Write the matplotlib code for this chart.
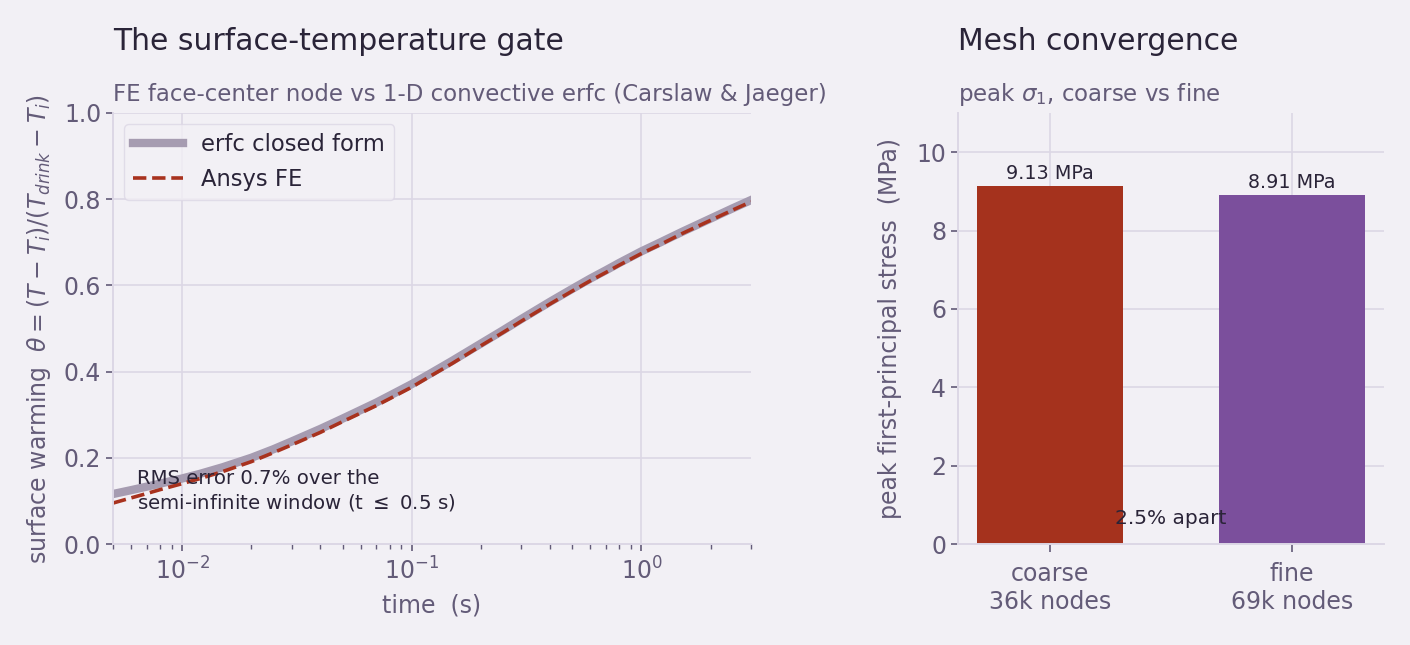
import matplotlib
matplotlib.use('Agg')
import matplotlib.pyplot as plt
import numpy as np

# --- data ---
t_s = [0.005, 0.006, 0.007, 0.008, 0.01, 0.012, 0.015, 0.02, 0.025, 0.03,
       0.04, 0.05, 0.06, 0.07, 0.08, 0.1, 0.12, 0.15, 0.2, 0.25,
       0.3, 0.4, 0.5, 0.6, 0.7, 0.8, 1.0, 1.2, 1.5, 2.0, 2.5, 3.0]
theta_erfc = [0.116, 0.125, 0.133, 0.140, 0.152, 0.163, 0.178, 0.200, 0.220, 0.238,
              0.267, 0.291, 0.311, 0.328, 0.344, 0.371, 0.395, 0.425, 0.465, 0.496,
              0.522, 0.562, 0.592, 0.616, 0.635, 0.652, 0.679, 0.699, 0.724, 0.755, 0.779, 0.798]
theta_fe = [0.095, 0.107, 0.117, 0.126, 0.140, 0.152, 0.168, 0.191, 0.212, 0.230,
            0.259, 0.284, 0.304, 0.321, 0.337, 0.364, 0.389, 0.419, 0.460, 0.491,
            0.517, 0.557, 0.587, 0.611, 0.630, 0.647, 0.674, 0.694, 0.720, 0.751, 0.775, 0.794]

mesh_labels = ['coarse\n36k nodes', 'fine\n69k nodes']
peak_stress = [9.13, 8.91]
stress_labels = ['9.13 MPa', '8.91 MPa']

BG = '#f2f0f5'
TXT = '#2a2438'
MUTED = '#635b78'
GRID = '#dcd7e5'
C_ERFC = '#a69cb1'
C_FE = '#a8321e'
C_BARS = ['#a5321d', '#7b4f9c']

plt.rcParams.update({
    'font.family': 'DejaVu Sans',
    'axes.edgecolor': GRID,
    'axes.labelcolor': MUTED,
    'xtick.color': MUTED,
    'ytick.color': MUTED,
    'xtick.labelsize': 17,
    'ytick.labelsize': 17,
    'axes.labelsize': 17,
})

fig = plt.figure(figsize=(14.1, 6.45), dpi=100, facecolor=BG)
ax1 = fig.add_axes([113 / 1410, 1 - 544 / 645, 638 / 1410, 431 / 645])
ax2 = fig.add_axes([958 / 1410, 1 - 544 / 645, 426 / 1410, 431 / 645])

for ax in (ax1, ax2):
    ax.set_facecolor(BG)
    ax.grid(True, color=GRID, linewidth=1.2)
    ax.set_axisbelow(True)
    for s in ('top', 'right'):
        ax.spines[s].set_visible(False)
    for s in ('left', 'bottom'):
        ax.spines[s].set_color(GRID)
        ax.spines[s].set_linewidth(1.4)
    ax.tick_params(length=5, width=1.2, color=MUTED)

# --- left: surface temperature ---
ax1.plot(t_s, theta_erfc, color=C_ERFC, lw=6, label='erfc closed form')
ax1.plot(t_s, theta_fe, color=C_FE, lw=2.6, ls='--', label='Ansys FE')
ax1.set_xscale('log')
ax1.set_xlim(0.005, 3.0)
ax1.set_ylim(0, 1.0)
ax1.set_yticks(np.arange(0, 1.01, 0.2))
ax1.tick_params(axis='x', pad=5)
ax1.tick_params(which='minor', length=3.5, width=1, color=MUTED)
ax1.grid(False, which='minor')
ax1.set_xlabel('time  (s)', labelpad=6)
ax1.set_ylabel(r'surface warming  $\theta = (T - T_i)/(T_{drink} - T_i)$', labelpad=8)
leg = ax1.legend(loc='upper left', fontsize=16.3, frameon=True, facecolor=BG,
                 edgecolor=GRID, handlelength=2.2, borderaxespad=0.5)
for txt in leg.get_texts():
    txt.set_color(TXT)
ax1.text(0.037, 0.123, 'RMS error 0.7% over the\nsemi-infinite window (t $\\leq$ 0.5 s)',
         transform=ax1.transAxes, fontsize=14.2, color=TXT, va='center', ha='left')
ax1.text(0, 1.146, 'The surface-temperature gate', transform=ax1.transAxes,
         fontsize=21.5, color=TXT, ha='left', va='baseline')
ax1.text(0, 1.028, 'FE face-center node vs 1-D convective erfc (Carslaw & Jaeger)',
         transform=ax1.transAxes, fontsize=16.5, color=MUTED, ha='left', va='baseline')

# --- right: mesh convergence ---
xpos = np.arange(len(mesh_labels))
bars = ax2.bar(xpos, peak_stress, width=0.6, color=C_BARS)
for b, lab in zip(bars, stress_labels):
    ax2.text(b.get_x() + b.get_width() / 2, b.get_height() + 0.08, lab,
             ha='center', va='bottom', fontsize=13.8, color=TXT)
ax2.set_xticks(xpos)
ax2.set_xticklabels(mesh_labels)
ax2.tick_params(axis='x', length=6, pad=7)
ax2.set_ylim(0, 11)
ax2.set_yticks([0, 2, 4, 6, 8, 10])
ax2.set_ylabel('peak first-principal stress  (MPa)', labelpad=10)
ax2.text(0.5, 0.64, '2.5% apart', ha='center', va='center', fontsize=14.5, color=TXT)
ax2.text(0, 1.146, 'Mesh convergence', transform=ax2.transAxes,
         fontsize=21.5, color=TXT, ha='left', va='baseline')
ax2.text(0, 1.028, r'peak $\sigma_1$, coarse vs fine', transform=ax2.transAxes,
         fontsize=16.5, color=MUTED, ha='left', va='baseline')

fig.savefig('out.png', dpi=100, facecolor=BG)
